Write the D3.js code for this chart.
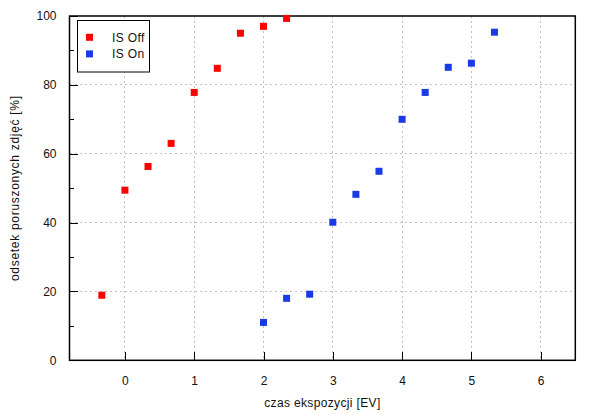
<!DOCTYPE html>
<html><head><meta charset="utf-8">
<script src="https://cdn.jsdelivr.net/npm/d3@7"></script>
<style>body{margin:0;background:#fff}svg{display:block}text{font-family:"Liberation Sans",Arial,sans-serif;font-size:12px;fill:#111}</style>
</head><body>
<script>
const xOff = [-1/3, 0, 1/3, 2/3, 1, 4/3, 5/3, 2, 7/3];
const yOff = [18.9, 49.4, 56.3, 63.0, 77.8, 84.8, 95.0, 97.0, 99.3];
const xOn = [2, 7/3, 8/3, 3, 10/3, 11/3, 4, 13/3, 14/3, 5, 16/3];
const yOn = [11.0, 18.0, 19.2, 40.1, 48.2, 54.9, 70.0, 77.8, 85.1, 86.3, 95.3];
const xTicks = [0, 1, 2, 3, 4, 5, 6];
const yTicks = [0, 20, 40, 60, 80, 100];
const yMinor = [10, 30, 50, 70, 90];
const seriesNames = ["IS Off", "IS On"];
const colors = ["#ff0000", "#1a3ae6"];

const W = 600, H = 415;
const m = {l: 69.5, r: 575.3, t: 16, b: 360.3};
const svg = d3.select("body").append("svg").attr("width", W).attr("height", H);
const x = d3.scaleLinear().domain([-0.8, 6.5]).range([m.l, m.r]);
const y = d3.scaleLinear().domain([0, 100]).range([m.b, m.t]);

// grid
const g = svg.append("g");
g.selectAll(".gx").data(xTicks).enter().append("line")
  .attr("x1", d => x(d)).attr("x2", d => x(d)).attr("y1", m.t).attr("y2", m.b)
  .attr("stroke", "#c0c0c0").attr("stroke-dasharray", "2,3").attr("shape-rendering", "crispEdges");
g.selectAll(".gy").data(yTicks.slice(1, -1)).enter().append("line")
  .attr("y1", d => y(d)).attr("y2", d => y(d)).attr("x1", m.l).attr("x2", m.r)
  .attr("stroke", "#c0c0c0").attr("stroke-dasharray", "2,3").attr("shape-rendering", "crispEdges");

// axes (ticks inward)
const ax = svg.append("g").attr("transform", `translate(0,${m.b})`)
  .call(d3.axisBottom(x).tickValues(xTicks).tickSize(-8).tickPadding(16).tickFormat(d3.format("d")));
ax.select(".domain").remove();
const ay = svg.append("g").attr("transform", `translate(${m.l},0)`)
  .call(d3.axisLeft(y).tickValues(yTicks).tickSize(-8).tickPadding(13).tickFormat(d3.format("d")));
ay.select(".domain").remove();
const ayMinor = svg.append("g").attr("transform", `translate(${m.l},0)`)
  .call(d3.axisLeft(y).tickValues(yMinor).tickSize(-4).tickFormat(""));
ayMinor.select(".domain").remove();
svg.selectAll(".tick line").attr("stroke", "#000").attr("shape-rendering", "crispEdges");
svg.selectAll(".tick text").attr("font-size", 12).attr("font-family", "Liberation Sans, Arial, sans-serif").attr("fill", "#111");

// frame
svg.append("rect").attr("x", m.l).attr("y", m.t).attr("width", m.r - m.l).attr("height", m.b - m.t)
  .attr("fill", "none").attr("stroke", "#000").attr("stroke-width", 1.5);

// points
const s = 7;
const dataOff = xOff.map((v, i) => [v, yOff[i]]);
const dataOn = xOn.map((v, i) => [v, yOn[i]]);
[dataOff, dataOn].forEach((data, k) => {
  svg.append("g").selectAll("rect").data(data).enter().append("rect")
    .attr("x", d => x(d[0]) - s / 2).attr("y", d => y(d[1]) - s / 2)
    .attr("width", s).attr("height", s).attr("fill", colors[k]);
});

// legend
const lg = svg.append("g");
lg.append("rect").attr("x", 77.5).attr("y", 20.5).attr("width", 72).attr("height", 51.5)
  .attr("fill", "#fff").attr("stroke", "#000").attr("stroke-width", 1);
seriesNames.forEach((n, i) => {
  const cy = 37.3 + i * 16.6;
  lg.append("rect").attr("x", 86).attr("y", cy - 3.5).attr("width", 7).attr("height", 7).attr("fill", colors[i]);
  lg.append("text").attr("x", 112).attr("y", cy + 4.3).attr("letter-spacing", 0.4).text(n);
});

// axis titles
svg.append("text").attr("x", (m.l + m.r) / 2).attr("y", 407).attr("text-anchor", "middle")
  .attr("letter-spacing", 0.35).text("czas ekspozycji [EV]");
svg.append("text").attr("transform", `translate(19,${(m.t + m.b) / 2}) rotate(-90)`).attr("text-anchor", "middle")
  .attr("letter-spacing", 0.7).text("odsetek poruszonych zdjęć [%]");
</script>
</body></html>
